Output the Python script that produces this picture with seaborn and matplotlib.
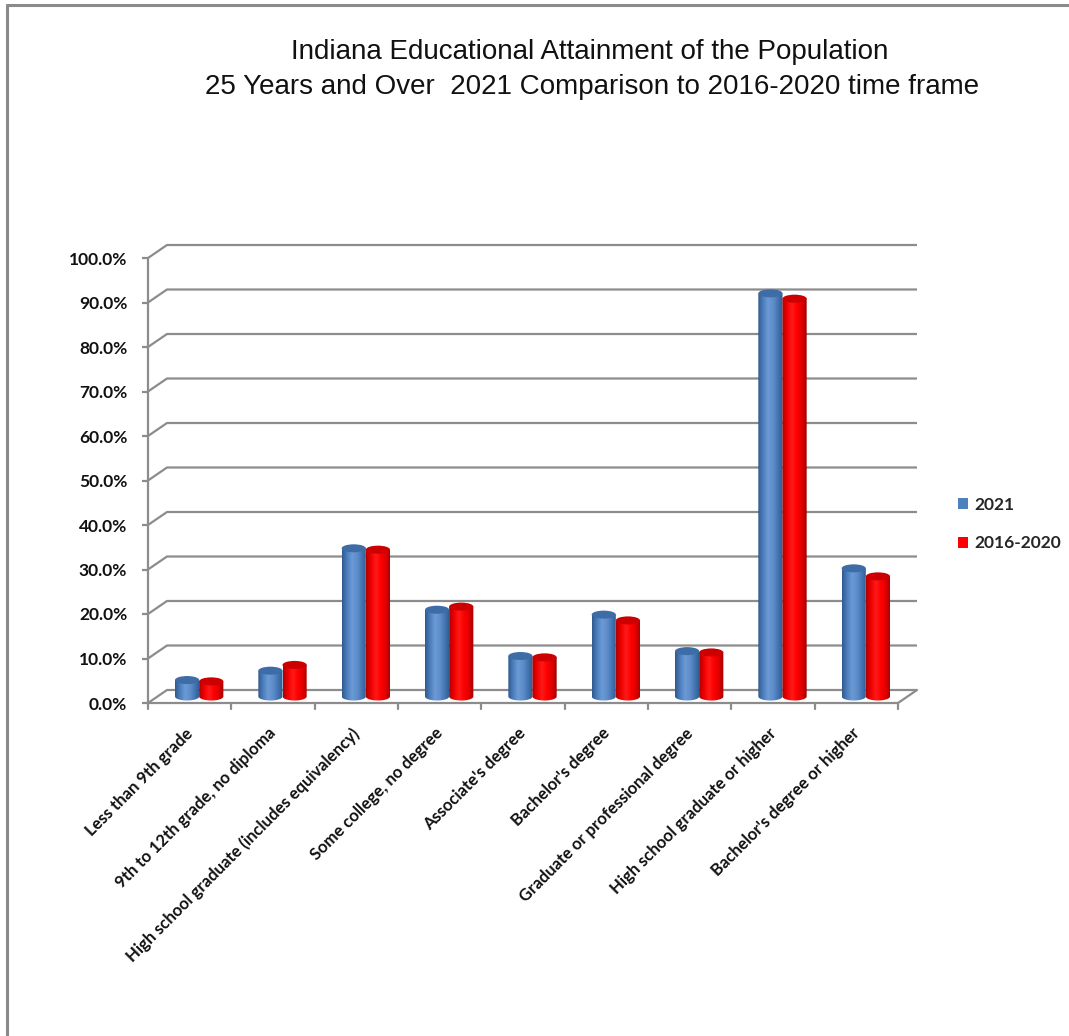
import numpy as np
import pandas as pd
import matplotlib
matplotlib.use("Agg")
import matplotlib.pyplot as plt
import seaborn as sns
from matplotlib.transforms import offset_copy, ScaledTranslation
from matplotlib.patches import PathPatch, Ellipse, Patch, Rectangle
from matplotlib.path import Path
from matplotlib.colors import LinearSegmentedColormap

# ---- data -------------------------------------------------------------
categories = [
    "Less than 9th grade",
    "9th to 12th grade, no diploma",
    "High school graduate (includes equivalency)",
    "Some college, no degree",
    "Associate's degree",
    "Bachelor's degree",
    "Graduate or professional degree",
    "High school graduate or higher",
    "Bachelor's degree or higher",
]
series_names = ["2021", "2016-2020"]
values_2021 = [3.7, 5.8, 33.3, 19.5, 9.1, 18.4, 10.2, 90.6, 28.8]
values_2016_2020 = [3.4, 7.1, 33.0, 20.2, 8.8, 17.1, 9.9, 89.4, 27.0]
y_ticks = [0, 10, 20, 30, 40, 50, 60, 70, 80, 90, 100]

df = pd.DataFrame({
    "category": categories * 2,
    "series": [series_names[0]] * len(categories) + [series_names[1]] * len(categories),
    "value": values_2021 + values_2016_2020,
})

# ---- style ------------------------------------------------------------
sns.set_theme(style="white")
plt.rcParams["font.family"] = ["Lato", "DejaVu Sans"]

BLUE = "#4F81BD"
RED = "#FF0000"
GRID = "#8C8C8C"
palette = {series_names[0]: BLUE, series_names[1]: RED}

W, H, DPI = 1069, 1036, 100
fig = plt.figure(figsize=(W / DPI, H / DPI), dpi=DPI)
fig.patch.set_facecolor("white")

# outer chart frame (left and top edges are visible)
fig.add_artist(plt.Line2D([7 / W, 7 / W], [0, 1 - 5 / H], transform=fig.transFigure,
                          color="#8A8A8A", lw=2.2))
fig.add_artist(plt.Line2D([7 / W, 1], [1 - 5 / H, 1 - 5 / H], transform=fig.transFigure,
                          color="#8A8A8A", lw=2.2))

# front plane of the plot
left_px, right_px, top_px, bottom_px = 148, 898, 258, 703
ax = fig.add_axes([left_px / W, 1 - bottom_px / H,
                   (right_px - left_px) / W, (bottom_px - top_px) / H])

sns.barplot(data=df, x="category", y="value", hue="series", hue_order=series_names,
            palette=palette, width=0.58, dodge=True, ax=ax, legend=False,
            saturation=1, errorbar=None)

n = len(categories)
ax.set_xlim(-0.5, n - 0.5)
ax.set_ylim(0, 100)

px_per_cat = (right_px - left_px) / n
px_per_unit = (bottom_px - top_px) / 100.0
depth_px = (19, 13)                       # perspective shift of the back wall
ddx = depth_px[0] / px_per_cat
ddy = depth_px[1] / px_per_unit

# ---- 3D frame: back wall gridlines, floor and connectors ---------------
for v in y_ticks:
    ax.plot([-0.5, -0.5 + ddx, n - 0.5 + ddx], [v, v + ddy, v + ddy],
            color=GRID, lw=1.6, clip_on=False, zorder=1, solid_capstyle="butt")
# floor front edge and right side
ax.plot([-0.5, n - 0.5, n - 0.5 + ddx], [0, 0, ddy], color=GRID, lw=1.6,
        clip_on=False, zorder=1)
# front vertical axis
ax.plot([-0.5, -0.5], [0, 100], color=GRID, lw=1.6, clip_on=False, zorder=1)

for s in ax.spines.values():
    s.set_visible(False)

# ---- cylinders ----------------------------------------------------------
bar_tr = offset_copy(ax.transData, fig=fig, x=depth_px[0] / 2, y=depth_px[1] / 2, units="dots")
cap_h = 8 / px_per_unit

shade = {
    BLUE: (LinearSegmentedColormap.from_list(
        "b", ["#2F5A8E", "#4C7EBD", "#6C9AD4", "#5E8ECB", "#4576B3", "#2E5A8C"]), "#3D6CA6"),
    RED: (LinearSegmentedColormap.from_list(
        "r", ["#B00000", "#F00000", "#FF1A1A", "#FF0000", "#E00000", "#A00000"]), "#CC0000"),
}
grad = np.linspace(0, 1, 64).reshape(1, -1)

bars = [p for p in ax.patches if isinstance(p, Rectangle)]
for p in bars:
    x0, w, h = p.get_x(), p.get_width(), p.get_height()
    fc = matplotlib.colors.to_hex(p.get_facecolor())
    cmap, top_col = shade[BLUE] if fc.lower() == BLUE.lower() else shade[RED]
    p.set_visible(False)
    cx = x0 + w / 2
    t = np.linspace(np.pi, 2 * np.pi, 40)
    xs = list(cx + w / 2 * np.cos(t)) + [x0 + w, x0]
    ys = list(cap_h / 2 * np.sin(t)) + [h, h]
    body = PathPatch(Path(np.column_stack([xs, ys])), transform=bar_tr,
                     facecolor="none", edgecolor="none")
    ax.add_patch(body)
    im = ax.imshow(grad, cmap=cmap, extent=[x0, x0 + w, -cap_h, h], aspect="auto",
                   transform=bar_tr, zorder=3, interpolation="bilinear")
    im.set_clip_path(body)
    ax.add_patch(Ellipse((cx, h), w, cap_h, transform=bar_tr, facecolor=top_col,
                         edgecolor="none", zorder=4))

ax.set_xlim(-0.5, n - 0.5)
ax.set_ylim(0, 100)
ax.set_aspect("auto")

# ---- ticks ----------------------------------------------------------------
ax.set_yticks(y_ticks)
ax.set_yticklabels([f"{v:.1f}%" for v in y_ticks])
ax.tick_params(axis="y", which="both", left=True, length=4, width=1.6, color=GRID,
               pad=11, labelsize=12.5)
for lab in ax.get_yticklabels():
    lab.set_fontweight("bold")
    lab.set_color("#111111")

ax.set_xticks(np.arange(n))
ax.set_xticklabels(categories, rotation=45, ha="right", rotation_mode="anchor",
                   fontsize=12, fontweight="bold", color="#111111")
ax.tick_params(axis="x", which="both", bottom=False, pad=10)
shift_left = ScaledTranslation(-5 / DPI, 0, fig.dpi_scale_trans)
for lab in ax.get_xticklabels():
    lab.set_transform(lab.get_transform() + shift_left)
for k in range(n + 1):
    ax.plot([k - 0.5, k - 0.5], [0, -6 / px_per_unit], color=GRID, lw=1.6,
            clip_on=False, zorder=1)
ax.set_xlabel("")
ax.set_ylabel("")
ax.grid(False)

# ---- legend ---------------------------------------------------------------
handles = [Patch(facecolor=BLUE, edgecolor="none"), Patch(facecolor=RED, edgecolor="none")]
fig.legend(handles, series_names, loc="upper left", bbox_to_anchor=(942 / W, 1 - 481 / H),
           frameon=False, handlelength=0.6, handleheight=0.6, handletextpad=0.35,
           labelspacing=1.3, prop={"family": "Lato", "weight": "bold", "size": 12.5})

# ---- title --------------------------------------------------------------
fig.text(590 / W, 1 - 52 / H, "Indiana Educational Attainment of the Population",
         ha="center", va="center", fontsize=20, family="Liberation Sans", color="#111111")
fig.text(592 / W, 1 - 87 / H, "25 Years and Over  2021 Comparison to 2016-2020 time frame",
         ha="center", va="center", fontsize=20, family="Liberation Sans", color="#111111")

fig.savefig("out.png", dpi=DPI, facecolor="white")
